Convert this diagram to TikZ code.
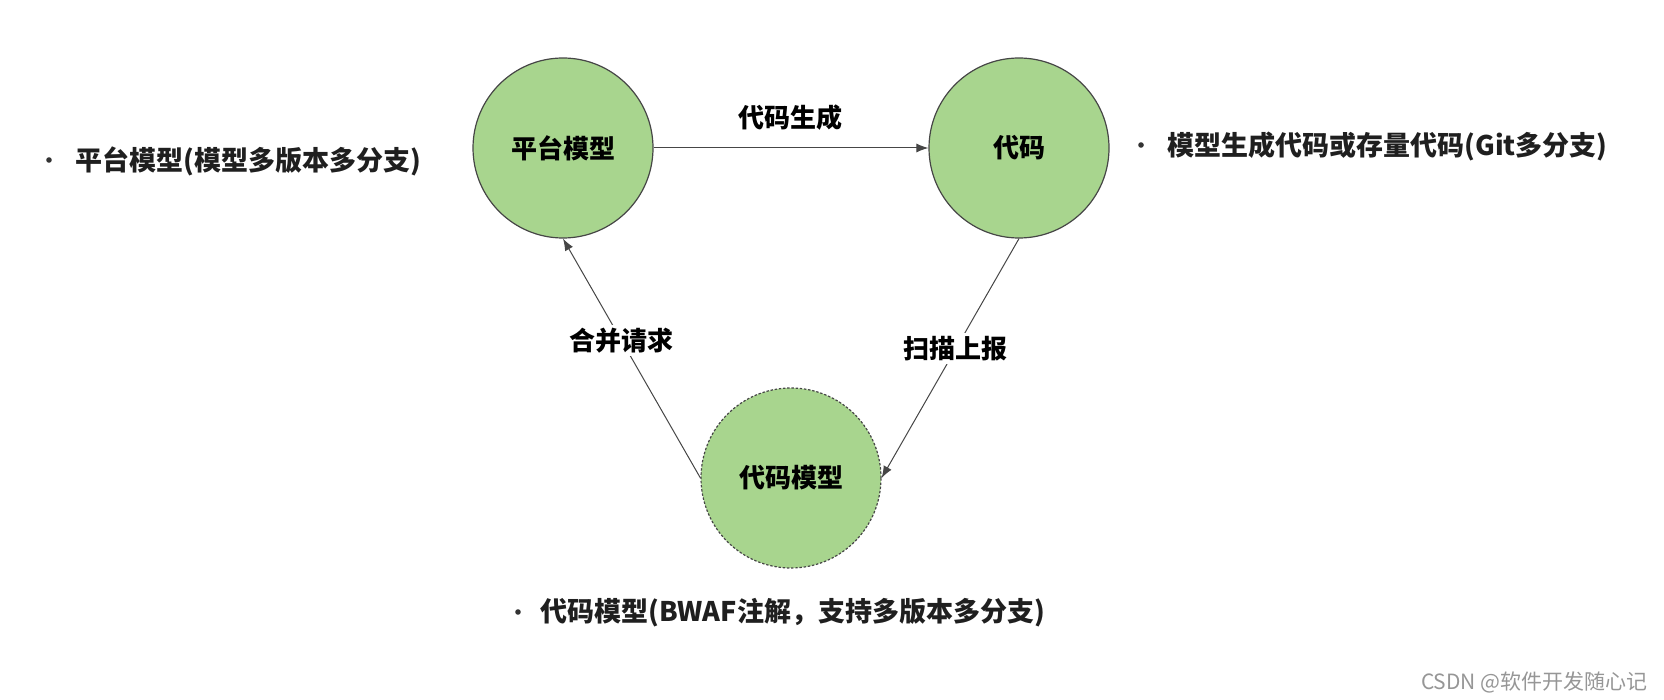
\documentclass[tikz,border=0pt]{standalone}
\usepackage{fontspec}
\setmainfont{Noto Sans CJK SC}
\usetikzlibrary{arrows.meta}
\definecolor{nodegreen}{RGB}{168,213,142}
\definecolor{edgegray}{RGB}{70,70,70}
\definecolor{wmgray}{RGB}{150,150,150}
\tikzset{
  state/.style={circle, draw=edgegray, line width=0.6pt, fill=nodegreen, minimum size=90pt, inner sep=0pt, font=\fontsize{13}{15}\selectfont\bfseries},
  dstate/.style={state, dash pattern=on 1.2pt off 0.9pt},
  flow/.style={draw=edgegray, line width=0.5pt, -{Latex[length=6pt,width=4.5pt]}},
  elabel/.style={fill=white, inner sep=1.5pt, font=\fontsize{13}{15}\selectfont\bfseries},
  note/.style={anchor=west, inner sep=0pt, font=\fontsize{13.5}{16}\selectfont\bfseries, text=black!88},
  bdot/.style={circle, fill=black!80, inner sep=0pt, minimum size=2.8pt}
}
\begin{document}
\begin{tikzpicture}[x=0.5pt, y=-0.5pt]
\useasboundingbox (0,0) rectangle (1664,700);
\node[state] (pm) at (563,148) {平台模型};
\node[state] (dm) at (1019,148) {代码};
\node[dstate] (cm) at (791,478) {代码模型};

\draw[flow] (pm.east) -- (dm.west);
\node[elabel, fill=none] (l1) at (790,118) {代码生成};
\draw[flow] (cm.west) -- node[elabel, pos=0.575] (l2) {合并请求} (pm.south);
\draw[flow] (dm.south) -- node[elabel, pos=0.46] (l3) {扫描上报} (cm.east);

\node[bdot] (b1) at (49,160) {};
\node[note] (t1) at (75,161) {平台模型(模型多版本多分支)};
\node[bdot] (b2) at (1141,145) {};
\node[note] (t2) at (1167,146) {模型生成代码或存量代码(Git多分支)};
\node[bdot] (b3) at (518,612) {};
\node[note] (t3) at (540,613) {代码模型(BWAF注解，支持多版本多分支)};

\node[anchor=east, inner sep=0pt, text=wmgray, font=\fontsize{10.5}{12}\selectfont] (wm) at (1648,682) {CSDN @软件开发随心记};
\end{tikzpicture}
\end{document}
